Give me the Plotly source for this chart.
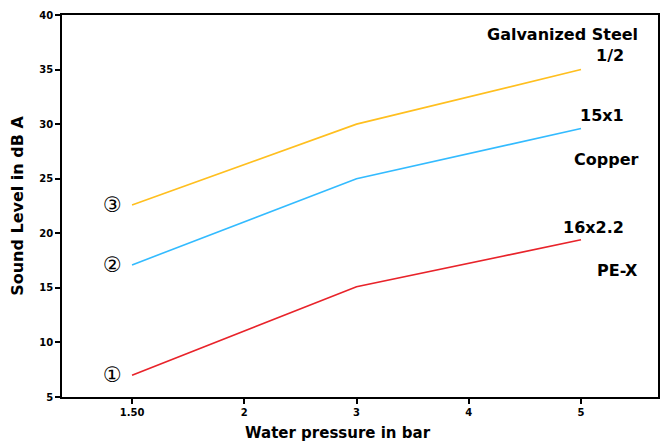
import plotly.graph_objects as go

# data
pressure = [1, 3, 5]
steel = [22.6, 30.0, 35.0]
copper = [17.1, 25.0, 29.6]
pex = [7.0, 15.1, 19.4]

x_ticks = [1, 2, 3, 4, 5]
x_ticktext = ["1.50", "2", "3", "4", "5"]
y_ticks = [5, 10, 15, 20, 25, 30, 35, 40]

FONT = "DejaVu Sans"

fig = go.Figure()
series = [
    ("Galvanized Steel", steel, "#ffbf1f", "③"),
    ("Copper", copper, "#33bbff", "②"),
    ("PE-X", pex, "#e8232a", "①"),
]
for name, vals, color, mark in series:
    fig.add_trace(
        go.Scatter(
            x=pressure,
            y=vals,
            mode="lines",
            name=name,
            line={"color": color, "width": 1.6},
        )
    )
    fig.add_annotation(
        x=0.83, y=vals[0], text=mark, showarrow=False,
        font={"family": FONT, "size": 21, "color": "black"},
    )

# right-hand labels
labels = [
    ("<b>Galvanized Steel</b>", 5.525, 38.2),
    ("<b>1/2</b>", 5.40, 36.3),
    ("<b>15x1</b>", 5.40, 30.75),
    ("<b>Copper</b>", 5.525, 26.8),
    ("<b>16x2.2</b>", 5.40, 20.5),
    ("<b>PE-X</b>", 5.525, 16.55),
]
for text, x, y in labels:
    fig.add_annotation(
        x=x, y=y, text=text, showarrow=False, xanchor="right",
        font={"family": FONT, "size": 16, "color": "black"},
    )

# x title sits a little left of the plot centre in the original
fig.add_annotation(
    x=0.463, y=-0.094, xref="paper", yref="paper",
    xanchor="center", yanchor="middle",
    text="<b>Water pressure in bar</b>", showarrow=False,
    font={"family": FONT, "size": 15, "color": "black"},
)

axis_common = {
    "showgrid": False,
    "zeroline": False,
    "showline": True,
    "linecolor": "black",
    "linewidth": 1.5,
    "mirror": True,
    "ticks": "outside",
    "ticklen": 5,
    "tickwidth": 1.5,
    "tickcolor": "black",
    "automargin": False,
    "tickfont": {"family": FONT, "size": 10, "color": "black"},
}

# the page body adds an 8px offset, so the figure is a bit smaller than the window
fig.update_layout(
    width=661,
    height=437,
    showlegend=False,
    paper_bgcolor="white",
    plot_bgcolor="white",
    margin={"l": 54, "r": 11, "t": 7, "b": 48},
    xaxis={
        **axis_common,
        "range": [0.376, 5.686],
        "tickvals": x_ticks,
        "ticktext": [f"<b>{t}</b>" for t in x_ticktext],
    },
    yaxis={
        **axis_common,
        "range": [5, 40],
        "tickvals": y_ticks,
        "ticktext": [f"<b>{t}</b>" for t in y_ticks],
        "title": {
            "text": "<b>Sound Level in dB A</b>",
            "font": {"family": FONT, "size": 16, "color": "black"},
            "standoff": 12,
        },
    },
)

fig.write_html("out.html")
